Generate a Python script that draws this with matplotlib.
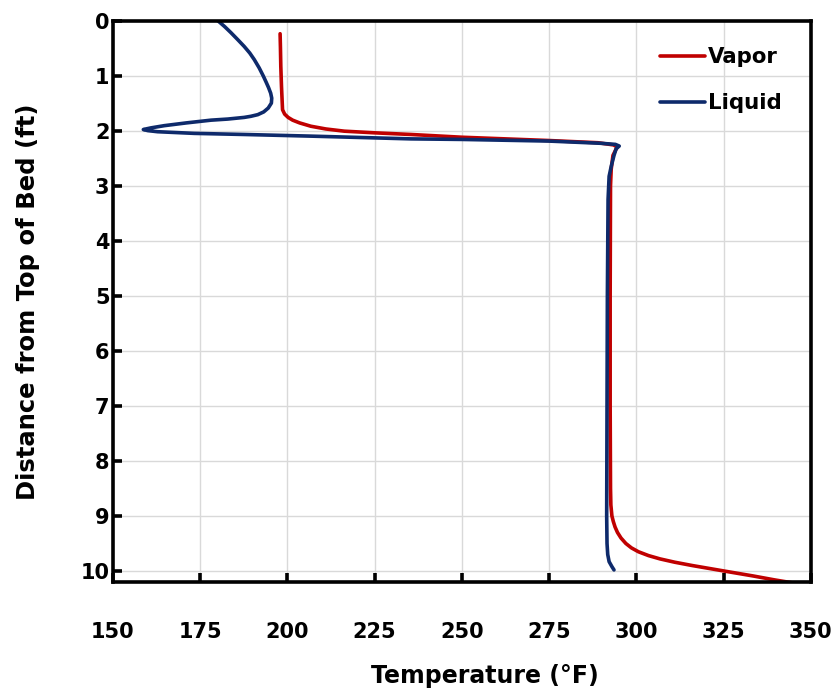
import matplotlib
matplotlib.use("Agg")
import matplotlib.pyplot as plt

# Vapor temperature profile along the bed
vapor_temp = [197.9, 198.0, 198.1, 198.3, 198.6, 199.2, 200.2, 201.5, 203.5, 206.7,
              211.0, 216.3, 225.0, 235.4, 250.0, 275.0, 289.0, 293.5, 294.5, 293.3,
              292.8, 292.6, 292.5, 292.5, 292.6, 292.7, 293.0, 293.4, 293.9, 294.6,
              295.6, 297.0, 298.6, 300.6, 303.5, 306.8, 311.0, 316.0, 321.5, 327.0,
              333.5, 339.5, 345.2]
vapor_depth = [0.24, 0.50, 0.83, 1.20, 1.62, 1.70, 1.76, 1.81, 1.86, 1.92,
               1.97, 2.01, 2.04, 2.07, 2.12, 2.18, 2.22, 2.26, 2.30, 2.45,
               2.70, 3.00, 5.00, 7.00, 8.50, 8.80, 9.00, 9.10, 9.20, 9.30,
               9.40, 9.50, 9.58, 9.65, 9.72, 9.78, 9.84, 9.90, 9.96, 10.02,
               10.09, 10.16, 10.22]

# Liquid temperature profile along the bed
liquid_temp = [180.0, 182.0, 183.8, 185.8, 187.6, 189.2, 190.5, 191.9, 193.1, 193.9,
               194.6, 195.2, 195.5, 195.4, 194.5, 193.2, 191.5, 189.5, 187.6, 182.9,
               178.1, 171.0, 164.7, 160.9, 158.7, 160.0, 162.8, 173.3, 187.6, 206.7,
               235.4, 250.0, 275.0, 289.8, 294.0, 295.1, 294.2, 293.6, 292.8, 292.2,
               291.9, 291.7, 291.6, 291.5, 291.6, 291.8, 292.2, 293.0, 293.6]
liquid_depth = [0.00, 0.11, 0.22, 0.35, 0.47, 0.59, 0.71, 0.86, 1.01, 1.12,
                1.22, 1.32, 1.41, 1.50, 1.59, 1.66, 1.71, 1.74, 1.76, 1.79,
                1.81, 1.86, 1.91, 1.95, 1.98, 2.00, 2.02, 2.05, 2.07, 2.10,
                2.15, 2.16, 2.19, 2.23, 2.25, 2.28, 2.33, 2.45, 2.65, 2.83,
                3.25, 5.00, 7.00, 9.00, 9.50, 9.70, 9.83, 9.92, 9.98]

x_ticks = [150, 175, 200, 225, 250, 275, 300, 325, 350]
y_ticks = list(range(0, 11))

FONT = "DejaVu Sans"

fig = plt.figure(figsize=(8.35, 6.91), dpi=100)
ax = fig.add_axes([0.1353, 0.1577, 0.8357, 0.8126])

ax.plot(vapor_temp, vapor_depth, color="#C00000", lw=2.6, label="Vapor",
        solid_capstyle="round", solid_joinstyle="round")
ax.plot(liquid_temp, liquid_depth, color="#0E2A6B", lw=2.6, label="Liquid",
        solid_capstyle="round", solid_joinstyle="round")

ax.set_xlim(150, 350)
ax.set_ylim(10.2, 0)
ax.set_xticks(x_ticks)
ax.set_yticks(y_ticks)
ax.grid(True, color="#D9D9D9", lw=1.0)
ax.set_axisbelow(True)

for s in ax.spines.values():
    s.set_linewidth(2.6)
    s.set_color("black")

ax.tick_params(axis="both", direction="in", length=6.5, width=2.6, colors="black",
               labelsize=15)
ax.tick_params(axis="x", pad=29)
ax.tick_params(axis="y", pad=2.5)
for lab in ax.get_xticklabels() + ax.get_yticklabels():
    lab.set_fontfamily(FONT)
    lab.set_fontweight("bold")

ax.set_xlabel("Temperature (°F)", fontfamily=FONT, fontweight="bold",
              fontsize=17, va="center")
ax.xaxis.set_label_coords(0.533, -0.168)
ax.set_ylabel("Distance from Top of Bed (ft)", fontfamily=FONT, fontweight="bold",
              fontsize=17.5, va="center", ha="center")
ax.yaxis.set_label_coords(-0.122, 0.5)

leg = ax.legend(loc="upper left", frameon=False,
                prop={"family": FONT, "weight": "bold", "size": 15.3},
                handlelength=2.1, handletextpad=0.15, labelspacing=1.22,
                borderpad=0.0, borderaxespad=0.0,
                bbox_to_anchor=(0.784, 0.952))

fig.savefig("out.png", dpi=100, facecolor="white")
